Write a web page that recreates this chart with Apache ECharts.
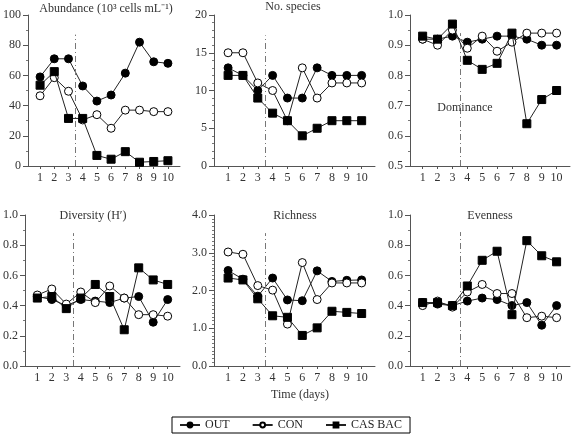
<!DOCTYPE html>
<html>
<head>
<meta charset="utf-8">
<script src="https://cdn.jsdelivr.net/npm/echarts@6/dist/echarts.min.js"></script>
<style>
  html, body { margin: 0; padding: 0; background: #fff; }
</style>
</head>
<body>
<div id="myChart" style="width:573px;height:434px;"></div>
<script>
// x categories (days)
const days = [1, 2, 3, 4, 5, 6, 7, 8, 9, 10];
const seriesNames = ['OUT', 'CON', 'CAS BAC'];

// Abundance (10^3 cells mL-1)
const abundOut = [59, 71, 71, 53, 43, 47, 61.5, 82, 69, 68];
const abundCon = [46.5, 58.5, 49.5, 30.5, 34, 25, 37, 37, 36, 36];
const abundCas = [53.5, 62.5, 31.5, 31.5, 7, 4.5, 9.5, 2.5, 3, 3.5];

// No. species
const specOut = [13, 12, 10, 12, 9, 9, 13, 12, 12, 12];
const specCon = [15, 15, 11, 10, 6, 13, 9, 11, 11, 11];
const specCas = [12, 12, 9, 7, 6, 4, 5, 6, 6, 6];

// Dominance
const domOut = [0.92, 0.92, 0.93, 0.91, 0.92, 0.93, 0.93, 0.92, 0.90, 0.90];
const domCon = [0.92, 0.90, 0.95, 0.89, 0.93, 0.88, 0.91, 0.94, 0.94, 0.94];
const domCas = [0.93, 0.92, 0.97, 0.85, 0.82, 0.84, 0.94, 0.64, 0.72, 0.75];

// Diversity (H')
const divOut = [0.46, 0.44, 0.40, 0.44, 0.43, 0.42, 0.45, 0.46, 0.29, 0.44];
const divCon = [0.47, 0.51, 0.41, 0.49, 0.42, 0.53, 0.45, 0.34, 0.34, 0.33];
const divCas = [0.45, 0.46, 0.38, 0.45, 0.54, 0.46, 0.24, 0.65, 0.57, 0.54];

// Richness
const richOut = [2.53, 2.30, 1.85, 2.33, 1.75, 1.73, 2.52, 2.24, 2.27, 2.28];
const richCon = [3.02, 2.96, 2.13, 2.01, 1.11, 2.74, 1.76, 2.20, 2.20, 2.20];
const richCas = [2.33, 2.28, 1.78, 1.33, 1.29, 0.81, 1.01, 1.45, 1.42, 1.39];

// Evenness
const evenOut = [0.42, 0.41, 0.40, 0.43, 0.45, 0.44, 0.40, 0.42, 0.27, 0.40];
const evenCon = [0.40, 0.43, 0.39, 0.49, 0.54, 0.48, 0.48, 0.32, 0.33, 0.32];
const evenCas = [0.42, 0.42, 0.40, 0.53, 0.70, 0.76, 0.34, 0.83, 0.73, 0.69];

const panels = [
  {grid: {left: 21, top: 15, width: 159, height: 151}, xmin: 0.15, xmax: 10.85,
   ymin: 0, ymax: 100, step: 20, minor: 2, dec: 0, cut: 87, data: [abundOut, abundCon, abundCas]},
  {grid: {left: 214, top: 15, width: 161, height: 151}, xmin: 0.05, xmax: 10.9,
   ymin: 0, ymax: 20, step: 5, minor: 5, dec: 0, cut: 17.3, data: [specOut, specCon, specCas]},
  {grid: {left: 410, top: 15, width: 160, height: 151}, xmin: 0.15, xmax: 10.9,
   ymin: 0.5, ymax: 1.0, step: 0.1, minor: 2, dec: 1, cut: 0.94, data: [domOut, domCon, domCas]},
  {grid: {left: 21, top: 215, width: 159, height: 151}, xmin: 0.15, xmax: 10.85,
   ymin: 0, ymax: 1.0, step: 0.2, minor: 2, dec: 1, cut: 0.88, data: [divOut, divCon, divCas]},
  {grid: {left: 214, top: 215, width: 161, height: 151}, xmin: 0.05, xmax: 10.9,
   ymin: 0, ymax: 4.0, step: 1, minor: 10, dec: 1, cut: 3.52, data: [richOut, richCon, richCas]},
  {grid: {left: 410, top: 215, width: 160, height: 151}, xmin: 0.15, xmax: 10.9,
   ymin: 0, ymax: 1.0, step: 0.2, minor: 2, dec: 1, cut: 0.887, data: [evenOut, evenCon, evenCas]}
];

const FONT = 'Liberation Serif';
// filled circle, open circle, filled square
const fills = ['#000', '#fff', '#000'];
const shapes = ['circle', 'circle', 'rect'];

const grids = [], xAxes = [], yAxes = [], series = [];
panels.forEach(function (p, i) {
  grids.push(p.grid);
  xAxes.push({
    type: 'value', gridIndex: i, min: p.xmin, max: p.xmax,
    splitLine: {show: false},
    axisLine: {lineStyle: {color: '#555'}},
    axisTick: {customValues: days, length: 3, lineStyle: {color: '#555'}},
    axisLabel: {customValues: days, color: '#333', fontFamily: FONT, fontSize: 12, margin: 6}
  });
  yAxes.push({
    type: 'value', gridIndex: i, min: p.ymin, max: p.ymax, interval: p.step,
    splitLine: {show: false},
    axisLine: {show: true, lineStyle: {color: '#555'}},
    axisTick: {show: true, length: 5, lineStyle: {color: '#555'}},
    minorTick: {show: true, splitNumber: p.minor, length: 2, lineStyle: {color: '#777'}},
    axisLabel: {color: '#333', fontFamily: FONT, fontSize: 12, margin: 7,
      formatter: function (v) { return v.toFixed(p.dec); }}
  });
  p.data.forEach(function (vals, k) {
    const s = {
      name: seriesNames[k],
      type: 'line',
      xAxisIndex: i, yAxisIndex: i,
      data: days.map(function (d, j) { return [d, vals[j]]; }),
      symbol: shapes[k],
      symbolSize: 8,
      z: 3 + k,
      lineStyle: {color: '#222', width: 1},
      itemStyle: {color: fills[k], borderColor: '#000', borderWidth: 1}
    };
    if (k === 0) {
      // dash-dot line between day 3 and day 4
      s.markLine = {
        silent: true, symbol: 'none',
        label: {show: false},
        lineStyle: {color: '#777', width: 1, type: [6, 3, 1, 3]},
        data: [[{coord: [3.5, p.ymin]}, {coord: [3.5, p.cut]}]]
      };
    }
    series.push(s);
  });
});

const titleStyle = {color: '#333', fontFamily: FONT, fontSize: 12, fontWeight: 'normal'};
function mkTitle(text, x, y) {
  return {text: text, left: x, top: y, textAlign: 'center', padding: 0, textStyle: titleStyle};
}

let myChart = echarts.init(document.getElementById('myChart'));
myChart.setOption({
  animation: false,
  title: [
    mkTitle('Abundance (10³ cells mL⁻¹)', 106, 3),
    mkTitle('No. species', 293, 1),
    mkTitle('Dominance', 465, 102),
    mkTitle('Diversity (H′)', 93, 210),
    mkTitle('Richness', 295, 210),
    mkTitle('Evenness', 490, 210),
    mkTitle('Time (days)', 300, 389)
  ],
  legend: {
    data: seriesNames,
    left: 172, top: 417,
    padding: [2, 8, 2, 7],
    borderColor: '#000', borderWidth: 1,
    itemWidth: 20, itemHeight: 6, itemGap: 22, itemTextGap: 4,
    textStyle: {color: '#222', fontFamily: FONT, fontSize: 12}
  },
  grid: grids,
  xAxis: xAxes,
  yAxis: yAxes,
  series: series
});
</script>
</body>
</html>
